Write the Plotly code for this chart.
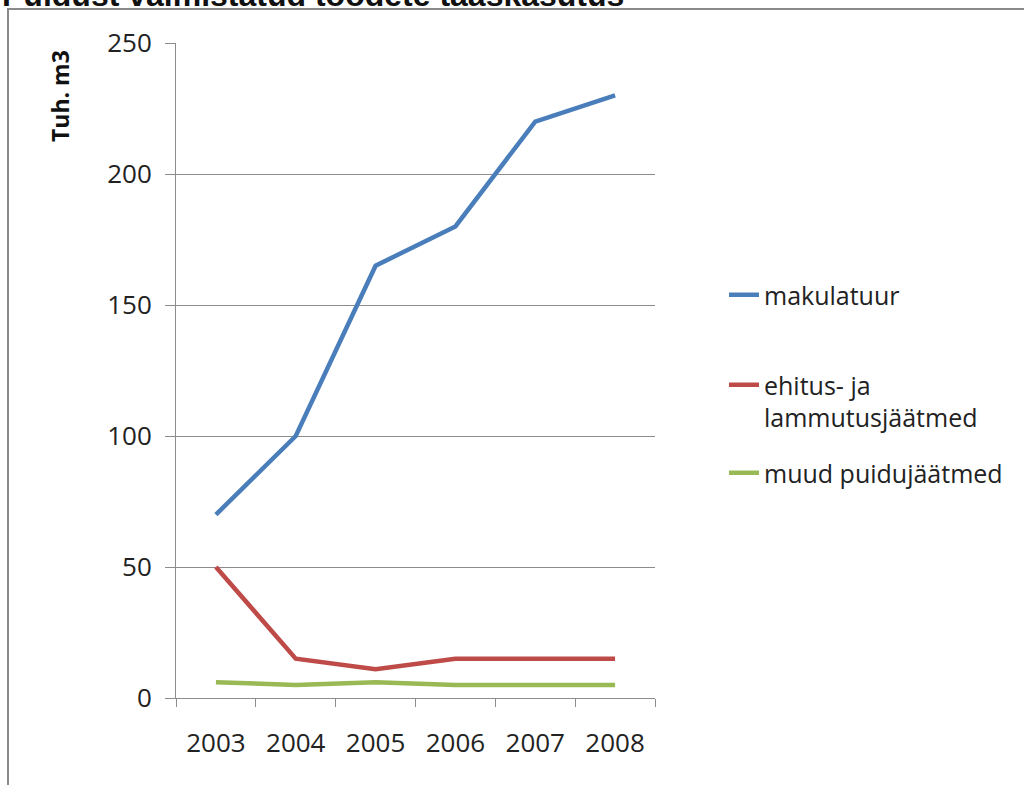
import plotly.graph_objects as go

years = ["2003", "2004", "2005", "2006", "2007", "2008"]
makulatuur = [70, 100, 165, 180, 220, 230]
ehitus = [50, 15, 11, 15, 15, 15]
muud = [6, 5, 6, 5, 5, 5]

names = ["makulatuur", "ehitus- ja<br>lammutusjäätmed", "muud puidujäätmed"]
colors = ["#4A7EBB", "#BE4B48", "#98B954"]
y_ticks = [0, 50, 100, 150, 200, 250]

FONT = "Open Sans"

# plot area in pixels
L, R, T, B = 176, 655, 43, 698
W, H = 1024, 785
pw, ph = R - L, B - T


def px_x(x):
    return (x - L) / pw


def px_y(y):
    return (B - y) / ph


fig = go.Figure()
series = [makulatuur, ehitus, muud]
legends = ["legend", "legend2", "legend3"]
for vals, name, col, lg in zip(series, names, colors, legends):
    fig.add_trace(go.Scatter(
        x=years, y=vals, name=name, mode="lines",
        line=dict(color=col, width=4.5),
        legend=lg, hoverinfo="skip", showlegend=True,
    ))

leg_common = dict(
    xanchor="left", yanchor="middle", bgcolor="rgba(0,0,0,0)",
    font=dict(family=FONT, size=25, color="#222"), valign="top",
    borderwidth=0,
)
LX = 724
fig.update_layout(
    width=W, height=H, showlegend=True,
    margin=dict(l=L, r=W - R, t=T, b=H - B, pad=0),
    paper_bgcolor="white", plot_bgcolor="white",
    font=dict(family=FONT, size=24, color="#222"),
    legend=dict(x=px_x(LX), y=px_y(295), **leg_common),
    legend2=dict(x=px_x(LX), y=px_y(401), **leg_common),
    legend3=dict(x=px_x(LX), y=px_y(473), **leg_common),
    xaxis=dict(
        type="category", range=[-0.5, len(years) - 0.5],
        showline=True, linecolor="#8c8c8c", linewidth=1,
        ticks="outside", tickson="boundaries", ticklen=8, tickcolor="#8c8c8c",
        showgrid=False, tickfont=dict(family=FONT, size=26, color="#222"),
        ticklabelstandoff=22, fixedrange=True,
    ),
    yaxis=dict(
        range=[0, 250], tickvals=y_ticks, showline=True, linecolor="#8c8c8c",
        linewidth=1, ticks="outside", ticklen=10, tickcolor="#8c8c8c",
        showgrid=True, gridcolor="#8c8c8c", gridwidth=1, zeroline=False,
        tickfont=dict(family=FONT, size=26, color="#222"),
        ticklabelstandoff=8, fixedrange=True,
    ),
    shapes=[dict(
        type="rect", xref="paper", yref="paper",
        x0=px_x(8), x1=px_x(1040), y0=px_y(800), y1=px_y(9),
        line=dict(color="#8a8a8a", width=2), fillcolor="rgba(0,0,0,0)",
        layer="below",
    )],
    annotations=[
        dict(text="<b>Tuh. m3</b>", xref="paper", yref="paper",
             x=px_x(60), y=px_y(96), textangle=-90, showarrow=False,
             xanchor="center", yanchor="middle",
             font=dict(family=FONT, size=23, color="#111")),
        dict(text="<b>Puidust valmistatud toodete taaskasutus</b>",
             xref="paper", yref="paper", x=px_x(0), y=1, yshift=28,
             xanchor="left", yanchor="bottom", showarrow=False,
             font=dict(family="Liberation Sans", size=32, color="#111")),
    ],
)

fig.write_html("out.html", config={"displayModeBar": False},
               post_script="document.body.style.margin='0';")
